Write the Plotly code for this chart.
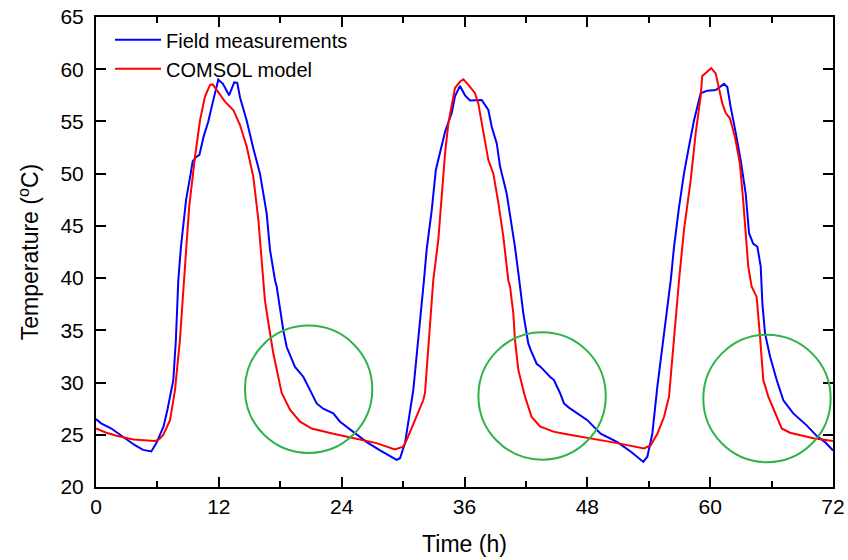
"""Field measurements vs COMSOL model: temperature over three daily cycles."""

import plotly.graph_objects as go

# Field measurements (blue)
field_time = [
    0.0, 0.5, 1.5, 2.6, 3.8, 4.6, 5.4, 5.9, 6.6, 7.0, 7.55, 7.8, 8.04, 8.3, 8.5, 8.8,
    9.25, 9.45, 9.8, 10.1, 10.5, 10.97, 11.4, 11.95, 12.4, 13.0, 13.5, 13.8, 14.07,
    14.72, 15.37, 16.02, 16.67, 17.0, 17.49, 17.65, 18.3, 18.63, 19.44, 20.25, 20.9,
    21.56, 22.2, 23.18, 23.84, 25.14, 26.45, 27.75, 28.6, 29.37, 29.7, 30.19, 31.0,
    31.33, 31.65, 32.04, 32.3, 32.8, 33.2, 33.77, 34.1, 34.75, 35.07, 35.56, 36.05,
    36.54, 37.19, 37.68, 38.33, 38.66, 39.15, 39.47, 40.12, 40.61, 40.93, 41.26,
    41.42, 41.75, 42.23, 42.47, 43.05, 43.44, 44.35, 44.74, 45.33, 45.72, 46.2,
    47.02, 48.0, 49.3, 50.93, 52.23, 53.47, 53.86, 54.35, 54.84, 55.49, 55.98,
    56.15, 56.47, 56.96, 57.44, 57.93, 58.42, 59.07, 59.72, 60.54, 61.0, 61.35,
    61.68, 62.0, 62.5, 62.98, 63.47, 63.8, 64.2, 64.61, 64.94, 65.0, 65.1, 65.36,
    65.85, 66.5, 67.15, 68.12, 69.43, 70.4, 71.22, 72.0,
]
field_temp = [
    26.5, 26.1, 25.6, 24.8, 24.0, 23.55, 23.4, 24.2, 25.8, 27.5, 30.2, 34.0, 39.8, 43.0,
    45.0, 47.5, 50.0, 51.2, 51.6, 51.8, 53.5, 55.0, 56.8, 59.0, 58.6, 57.5, 58.75, 58.7,
    57.3, 55.1, 52.4, 50.0, 46.2, 42.7, 39.8, 39.2, 35.0, 33.4, 31.5, 30.56, 29.3, 28.0,
    27.5, 27.05, 26.25, 25.3, 24.3, 23.5, 23.0, 22.6, 22.75, 24.2, 29.3, 32.5, 36.0,
    39.8, 42.7, 46.5, 50.35, 52.75, 54.0, 55.8, 57.4, 58.4, 57.5, 57.0, 57.0, 57.05,
    56.1, 54.5, 52.9, 50.7, 48.1, 45.25, 43.0, 40.5, 39.2, 36.6, 33.75, 33.1, 31.8,
    31.5, 30.56, 30.24, 29.0, 28.0, 27.6, 27.05, 26.4, 25.1, 24.3, 23.4, 22.4, 22.9,
    25.1, 29.6, 35.0, 38.5, 39.8, 43.0, 46.8, 50.0, 52.6, 55.1, 57.7, 57.95, 58.0,
    58.3, 58.6, 58.3, 56.4, 53.9, 51.3, 48.1, 44.3, 43.3, 43.0, 41.1, 39.8, 37.6, 34.7,
    32.5, 30.24, 28.3, 27.05, 25.9, 24.9, 24.3, 23.5,
]

# COMSOL model (red)
model_time = [
    0.0, 1.0, 2.0, 3.65, 5.76, 6.2, 6.58, 7.23, 7.72, 8.2, 8.6, 9.1, 9.67, 10.16, 10.65,
    11.14, 11.4, 11.79, 12.6, 13.41, 14.07, 14.72, 15.37, 15.86, 16.35, 16.5, 16.84,
    17.32, 18.14, 18.95, 19.93, 21.07, 23.18, 25.14, 27.4, 29.2, 30.0, 30.35, 31.16,
    31.97, 32.14, 32.47, 32.8, 32.95, 33.44, 33.77, 34.1, 34.42, 34.75, 35.07, 35.56,
    35.89, 36.38, 37.03, 37.35, 37.68, 38.0, 38.33, 38.82, 39.31, 39.79, 40.28, 40.45,
    40.77, 40.93, 41.26, 41.91, 42.56, 43.38, 44.68, 45.72, 48.33, 50.93, 53.54, 54.19,
    54.84, 55.49, 55.98, 56.3, 56.63, 56.96, 57.44, 58.1, 58.59, 59.07, 59.23, 59.56,
    60.1, 60.54, 60.86, 61.19, 61.52, 61.93, 62.42, 62.9, 63.22, 63.49, 63.72, 64.05,
    64.54, 64.87, 65.19, 65.68, 66.33, 66.99, 67.8, 70.08, 72.0,
]
model_temp = [
    25.6, 25.2, 24.9, 24.55, 24.4, 24.6, 25.0, 26.4, 29.3, 34.1, 39.8, 46.8, 51.6, 55.1,
    57.4, 58.5, 58.55, 58.0, 56.9, 56.1, 54.66, 52.6, 49.7, 45.6, 39.8, 37.9, 35.7, 32.8,
    29.0, 27.4, 26.25, 25.6, 25.1, 24.66, 24.2, 23.6, 23.86, 24.5, 26.4, 28.3, 29.0,
    33.4, 37.3, 39.8, 43.65, 47.5, 51.95, 54.8, 56.7, 58.2, 58.8, 59.04, 58.5, 57.7,
    56.7, 54.8, 52.9, 51.3, 50.0, 47.2, 44.0, 39.8, 39.2, 36.6, 34.1, 31.2, 28.65, 26.7,
    25.8, 25.3, 25.1, 24.66, 24.2, 23.7, 24.0, 25.1, 26.7, 28.65, 32.5, 36.6, 39.8, 44.6,
    49.4, 53.9, 57.4, 59.35, 59.67, 60.1, 59.6, 58.3, 56.7, 55.8, 55.3, 53.5, 51.0, 47.5,
    44.0, 41.1, 39.2, 38.2, 34.4, 30.24, 28.65, 27.05, 25.6, 25.2, 24.66, 24.4,
]

# Highlight circles: centre time, centre temperature, radius in h and degC
circle_time = [20.77, 43.58, 65.55]
circle_temp = [29.36, 28.72, 28.48]
circle_rx = 6.22
circle_ry = 6.1

FONT = "Liberation Sans, Arial, sans-serif"

fig = go.Figure()
fig.add_trace(go.Scatter(x=field_time, y=field_temp, mode="lines", name="Field measurements",
                         line={"color": "#0000ff", "width": 2}))
fig.add_trace(go.Scatter(x=model_time, y=model_temp, mode="lines", name="COMSOL model",
                         line={"color": "#ff0000", "width": 2}))

for cx, cy in zip(circle_time, circle_temp):
    fig.add_shape(type="circle", xref="x", yref="y",
                  x0=cx - circle_rx, x1=cx + circle_rx, y0=cy - circle_ry, y1=cy + circle_ry,
                  line={"color": "#2eb34a", "width": 2})

axis_style = dict(
    showline=True, linecolor="black", linewidth=2, mirror="ticks",
    ticks="inside", tickcolor="black", tickwidth=2, ticklen=10,
    showgrid=False, zeroline=False, automargin=False, ticklabeloverflow="allow",
    tickfont={"size": 21, "color": "black", "family": FONT},
)

fig.update_xaxes(range=[0, 72], dtick=12, tick0=0,
                 minor={"dtick": 6, "ticks": "inside", "ticklen": 6, "tickwidth": 2, "tickcolor": "black"},
                 title={"text": "Time (h)", "font": {"size": 23, "color": "black", "family": FONT}, "standoff": 19},
                 **axis_style)
fig.update_yaxes(range=[20, 65], dtick=5, tick0=20, ticklabelstandoff=6,
                 title={"text": "Temperature (<sup>o</sup>C)", "font": {"size": 23, "color": "black", "family": FONT},
                        "standoff": 15},
                 **axis_style)

fig.update_layout(
    width=848, height=560,
    margin={"l": 96, "r": 15, "t": 17, "b": 73},
    plot_bgcolor="white", paper_bgcolor="white",
    font={"family": FONT, "color": "black"},
    showlegend=True,
    legend={"x": 0.019, "y": 0.993, "xanchor": "left", "yanchor": "top",
            "bgcolor": "rgba(0,0,0,0)", "font": {"size": 20, "color": "black", "family": FONT},
            "itemwidth": 46, "tracegroupgap": 0},
)

# drop the default page margin so the figure fills the window exactly
fig.write_html("out.html", config={"displayModeBar": False},
               post_script="document.body.style.margin = '0';")
